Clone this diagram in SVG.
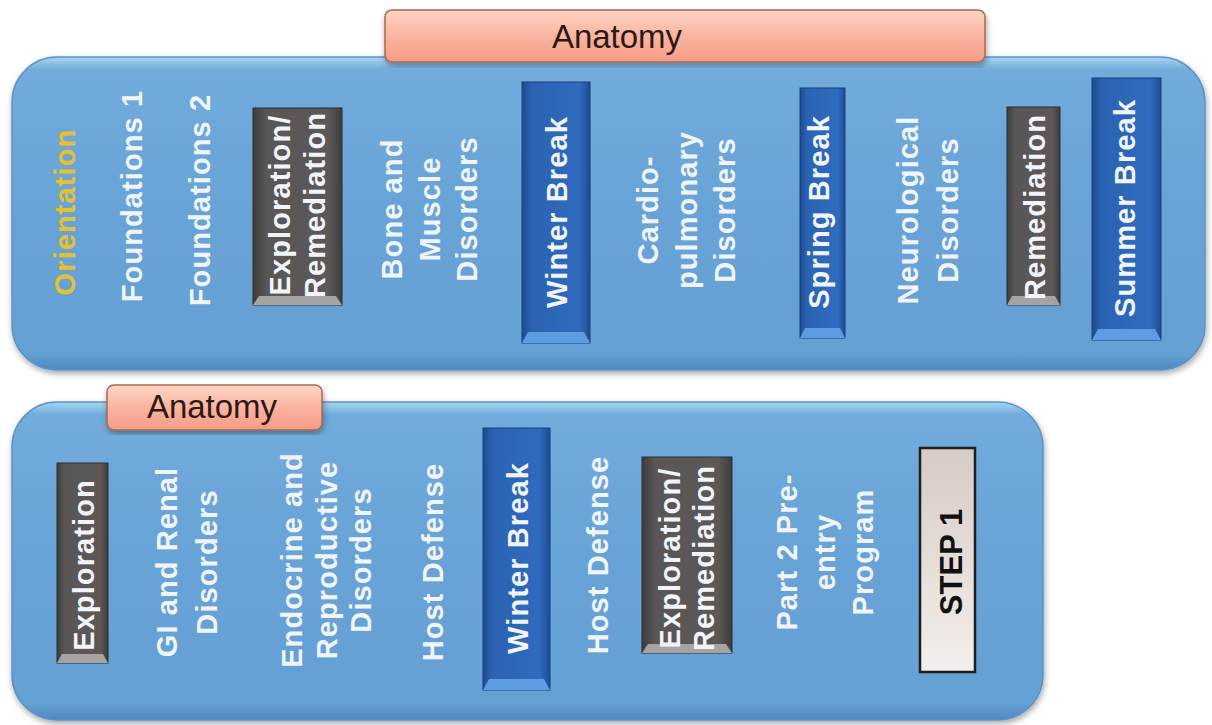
<svg xmlns="http://www.w3.org/2000/svg" width="1212" height="725" viewBox="0 0 1212 725">
<defs>
<linearGradient id="panelGrad" x1="0" y1="0" x2="0" y2="1">
<stop offset="0" stop-color="#a6d6f2"/>
<stop offset="0.04" stop-color="#72abdc"/>
<stop offset="0.5" stop-color="#68a3d7"/>
<stop offset="0.95" stop-color="#64a0d4"/>
<stop offset="1" stop-color="#4f88bf"/>
</linearGradient>
<linearGradient id="salmon" x1="0" y1="0" x2="0" y2="1">
<stop offset="0" stop-color="#fdd6c6"/>
<stop offset="0.5" stop-color="#fbb4a0"/>
<stop offset="1" stop-color="#f59b85"/>
</linearGradient>
<linearGradient id="blueGrad" x1="0" y1="0" x2="1" y2="0">
<stop offset="0" stop-color="#1d4c92"/>
<stop offset="0.15" stop-color="#2b63b2"/>
<stop offset="0.85" stop-color="#2f6bbe"/>
<stop offset="1" stop-color="#1d4c92"/>
</linearGradient>
<linearGradient id="darkGrad" x1="0" y1="0" x2="1" y2="0">
<stop offset="0" stop-color="#3e3c3c"/>
<stop offset="0.15" stop-color="#5a5655"/>
<stop offset="0.85" stop-color="#5c5857"/>
<stop offset="1" stop-color="#3e3c3c"/>
</linearGradient>
<linearGradient id="stepGrad" x1="0" y1="0" x2="0" y2="1">
<stop offset="0" stop-color="#d6cbc4"/>
<stop offset="1" stop-color="#f3efec"/>
</linearGradient>
<filter id="shadow" x="-5%" y="-5%" width="110%" height="115%">
<feGaussianBlur in="SourceAlpha" stdDeviation="3"/>
<feOffset dx="1" dy="3" result="b"/>
<feComponentTransfer><feFuncA type="linear" slope="0.35"/></feComponentTransfer>
<feMerge><feMergeNode/><feMergeNode in="SourceGraphic"/></feMerge>
</filter>
</defs>
<style>
.panel{fill:url(#panelGrad);stroke:#5d92c6;stroke-width:1.5;filter:url(#shadow)}
.lbl{fill:url(#salmon);stroke:#a8684f;stroke-width:1.5;filter:url(#shadow)}
.lblt{font-family:"Liberation Sans",Arial,sans-serif;font-size:33px;fill:#2b1a14;text-anchor:middle}
.t{font-family:"Liberation Sans",Arial,sans-serif;font-size:29px;font-weight:bold;fill:#f1f5fa;text-anchor:middle;letter-spacing:1.1px}
.gold{fill:#e6c12e}
.blue{fill:url(#blueGrad);stroke:#1a3f7a;stroke-width:1}
.dark{fill:url(#darkGrad);stroke:#2e2c2c;stroke-width:1}
.bevB{fill:#5e9ce2}
.bevD{fill:#a6a4a2}
.step{fill:url(#stepGrad);stroke:#1e1e1e;stroke-width:2.5}
.stept{font-family:"Liberation Sans",Arial,sans-serif;font-size:31px;font-weight:bold;fill:#111;text-anchor:middle}
</style>
<rect width="1212" height="725" fill="#ffffff"/>

<g id="panel-top">
<rect class="panel" x="12" y="57" width="1193" height="313" rx="45" ry="45"/>
</g>
<g id="panel-bottom">
<rect class="panel" x="12" y="402" width="1031" height="318" rx="45" ry="45"/>
</g>

<g id="label-top">
<rect class="lbl" x="385" y="10" width="600" height="52" rx="7"/>
<text class="lblt" x="617" y="48">Anatomy</text>
</g>
<g id="label-bottom">
<rect class="lbl" x="107" y="385" width="215" height="45" rx="7"/>
<text class="lblt" x="212" y="418">Anatomy</text>
</g>

<g id="connectors"></g>

<!-- top row -->
<g id="orientation">
<text class="t gold" transform="translate(75,212) rotate(-90)">Orientation</text>
</g>
<g id="foundations1">
<text class="t" transform="translate(142,196) rotate(-90)">Foundations 1</text>
</g>
<g id="foundations2">
<text class="t" transform="translate(210,200) rotate(-90)">Foundations 2</text>
</g>
<g id="exp-rem-top">
<rect class="dark" x="253" y="108" width="89" height="197"/>
<polygon class="bevD" points="253,305 342,305 336,296 259,296"/>
<text class="t" transform="translate(290,205) rotate(-90)"><tspan x="0" dy="0">Exploration/</tspan><tspan x="0" dy="35">Remediation</tspan></text>
</g>
<g id="bone-muscle">
<text class="t" transform="translate(402,209) rotate(-90)"><tspan x="0" dy="0">Bone and</tspan><tspan x="0" dy="38">Muscle</tspan><tspan x="0" dy="37">Disorders</tspan></text>
</g>
<g id="winter-top">
<rect class="blue" x="522" y="82" width="68" height="261"/>
<polygon class="bevB" points="522,343 590,343 584,332 528,332"/>
<text class="t" transform="translate(567,212) rotate(-90)">Winter Break</text>
</g>
<g id="cardio">
<text class="t" transform="translate(658,210) rotate(-90)"><tspan x="0" dy="0">Cardio-</tspan><tspan x="0" dy="39">pulmonary</tspan><tspan x="0" dy="38">Disorders</tspan></text>
</g>
<g id="spring">
<rect class="blue" x="800" y="88" width="45" height="250"/>
<polygon class="bevB" points="800,338 845,338 840,328 805,328"/>
<text class="t" transform="translate(829,212) rotate(-90)">Spring Break</text>
</g>
<g id="neuro">
<text class="t" transform="translate(918,210) rotate(-90)"><tspan x="0" dy="0">Neurological</tspan><tspan x="0" dy="40">Disorders</tspan></text>
</g>
<g id="remediation">
<rect class="dark" x="1007" y="107" width="53" height="198"/>
<polygon class="bevD" points="1007,305 1060,305 1055,296 1012,296"/>
<text class="t" transform="translate(1045,207) rotate(-90)">Remediation</text>
</g>
<g id="summer">
<rect class="blue" x="1092" y="78" width="69" height="262"/>
<polygon class="bevB" points="1092,340 1161,340 1155,329 1098,329"/>
<text class="t" transform="translate(1135,208) rotate(-90)">Summer Break</text>
</g>

<!-- bottom row -->
<g id="exploration">
<rect class="dark" x="57" y="463" width="51" height="200"/>
<polygon class="bevD" points="57,663 108,663 103,654 62,654"/>
<text class="t" transform="translate(94,565) rotate(-90)">Exploration</text>
</g>
<g id="gi-renal">
<text class="t" transform="translate(177,562) rotate(-90)"><tspan x="0" dy="0">GI and Renal</tspan><tspan x="0" dy="40">Disorders</tspan></text>
</g>
<g id="endocrine">
<text class="t" transform="translate(302,560) rotate(-90)"><tspan x="0" dy="0">Endocrine and</tspan><tspan x="0" dy="35">Reproductive</tspan><tspan x="0" dy="34">Disorders</tspan></text>
</g>
<g id="host1">
<text class="t" transform="translate(443,562) rotate(-90)">Host Defense</text>
</g>
<g id="winter-bottom">
<rect class="blue" x="483" y="428" width="67" height="262"/>
<polygon class="bevB" points="483,690 550,690 544,679 489,679"/>
<text class="t" transform="translate(528,558) rotate(-90)">Winter Break</text>
</g>
<g id="host2">
<text class="t" transform="translate(608,555) rotate(-90)">Host Defense</text>
</g>
<g id="exp-rem-bottom">
<rect class="dark" x="642" y="457" width="90" height="196"/>
<polygon class="bevD" points="642,653 732,653 726,644 648,644"/>
<text class="t" transform="translate(680,558) rotate(-90)"><tspan x="0" dy="0">Exploration/</tspan><tspan x="0" dy="34">Remediation</tspan></text>
</g>
<g id="part2">
<text class="t" transform="translate(797,552) rotate(-90)"><tspan x="0" dy="0">Part 2 Pre-</tspan><tspan x="0" dy="38">entry</tspan><tspan x="0" dy="38">Program</tspan></text>
</g>
<g id="step1">
<rect class="step" x="920" y="448" width="55" height="224"/>
<text class="stept" transform="translate(962,562) rotate(-90)">STEP 1</text>
</g>
</svg>
